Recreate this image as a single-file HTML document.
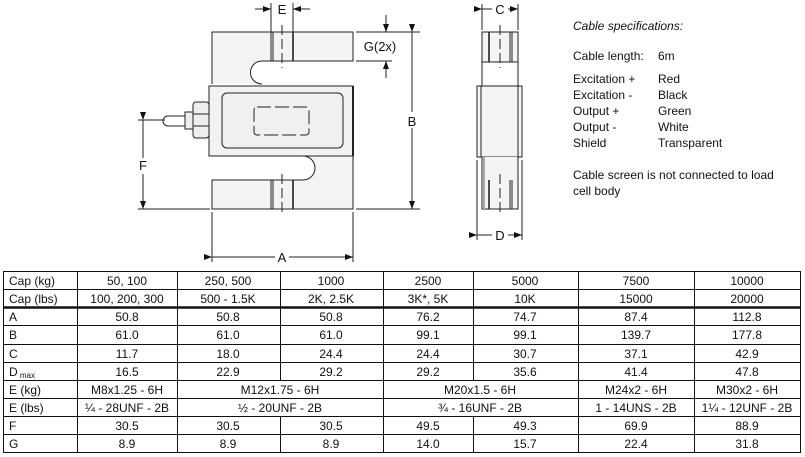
<!DOCTYPE html>
<html><head><meta charset="utf-8"><style>
html,body{margin:0;padding:0;background:#fff;width:805px;height:457px;overflow:hidden}
svg{display:block}
text{font-family:"Liberation Sans",sans-serif;fill:#111}
</style></head><body>
<svg width="805" height="457" viewBox="0 0 805 457" xmlns="http://www.w3.org/2000/svg">
<defs><marker id="ar" markerWidth="8" markerHeight="6" refX="8" refY="3" orient="auto"><path d="M0,0 L8,3 L0,6 z" fill="#111"/></marker></defs>
<g stroke="#222" stroke-width="1" fill="none">
<path d="M212,84 V32 H353 V61 H262 A11.5,11.5 0 0 0 262,84" fill="#f4f4f4"/>
<path d="M303,156 H353 V209 H212 V180 H303 A12,12 0 0 0 303,156 Z" fill="#f4f4f4"/>
<rect x="209" y="86" width="144" height="70" fill="#f2f2f2"/>
<line x1="353" y1="86" x2="353" y2="156" stroke-width="2"/>
<rect x="222" y="93" width="121" height="55" rx="5" fill="#f0f0f0"/>
<rect x="254" y="107" width="55" height="28" rx="3" stroke-dasharray="14,4"/>
<rect x="193" y="102" width="16" height="36" rx="3" fill="#eee"/>
<line x1="193" y1="114" x2="209" y2="114"/><line x1="193" y1="126" x2="209" y2="126"/>
<rect x="185" y="112" width="8" height="17" fill="#eee"/>
<path d="M185,116 H168 A5,5 0 0 0 168,126 H185"/>
<line x1="271" y1="32" x2="271" y2="61"/><line x1="273" y1="32" x2="273" y2="61"/><line x1="293" y1="32" x2="293" y2="61" stroke-width="1.6"/>
<line x1="271" y1="180" x2="271" y2="209"/><line x1="273" y1="180" x2="273" y2="209"/><line x1="293" y1="180" x2="293" y2="209" stroke-width="1.6"/>
<line x1="282" y1="25" x2="282" y2="68" stroke-dasharray="10,4"/>
<line x1="282" y1="174" x2="282" y2="215" stroke-dasharray="10,4"/>
<line x1="271" y1="3" x2="271" y2="32"/><line x1="293" y1="3" x2="293" y2="32"/>
<line x1="255" y1="9" x2="271" y2="9" marker-end="url(#ar)"/><line x1="310" y1="9" x2="293" y2="9" marker-end="url(#ar)"/>
<line x1="356" y1="32" x2="420" y2="32"/><line x1="356" y1="61" x2="392" y2="61"/>
<line x1="386" y1="15" x2="386" y2="32" marker-end="url(#ar)"/><line x1="386" y1="78" x2="386" y2="61" marker-end="url(#ar)"/>
<line x1="412" y1="32" x2="412" y2="209" marker-start="url(#ar)" marker-end="url(#ar)" />
<line x1="356" y1="209" x2="420" y2="209"/>
<line x1="138" y1="120" x2="165" y2="120"/><line x1="138" y1="209" x2="210" y2="209"/>
<line x1="143" y1="120" x2="143" y2="209" marker-start="url(#ar)" marker-end="url(#ar)"/>
<line x1="212" y1="212" x2="212" y2="262"/><line x1="353" y1="212" x2="353" y2="262"/>
<line x1="212" y1="257" x2="353" y2="257" marker-start="url(#ar)" marker-end="url(#ar)"/>
<rect x="482" y="32" width="36" height="30" fill="#f4f4f4"/>
<line x1="482" y1="62" x2="482" y2="86"/><line x1="518" y1="62" x2="518" y2="86"/>
<line x1="489" y1="32" x2="489" y2="62" stroke-width="1.6"/><line x1="510" y1="32" x2="510" y2="62"/><line x1="512" y1="32" x2="512" y2="62"/>
<rect x="477" y="86" width="45" height="71" fill="#f4f4f4"/>
<line x1="481" y1="86" x2="481" y2="157"/><line x1="518" y1="86" x2="518" y2="157"/>
<path d="M482,157 V209 H518 V157" fill="#f4f4f4"/>
<line x1="484" y1="157" x2="484" y2="209" stroke="#aaa" stroke-width="2"/>
<line x1="489" y1="180" x2="489" y2="209" stroke-width="1.6"/><line x1="510" y1="180" x2="510" y2="209"/><line x1="512" y1="180" x2="512" y2="209"/>
<line x1="500" y1="25" x2="500" y2="68" stroke-dasharray="10,4"/>
<line x1="500" y1="174" x2="500" y2="215" stroke-dasharray="10,4"/>
<line x1="482" y1="4" x2="482" y2="30"/><line x1="518" y1="4" x2="518" y2="30"/>
<line x1="482" y1="9" x2="518" y2="9" marker-start="url(#ar)" marker-end="url(#ar)"/>
<line x1="477" y1="160" x2="477" y2="240"/><line x1="522" y1="160" x2="522" y2="240"/>
<line x1="477" y1="235" x2="522" y2="235" marker-start="url(#ar)" marker-end="url(#ar)"/>
</g>
<g font-size="13" text-anchor="middle">
<rect x="274" y="2" width="16" height="14" fill="#fff"/><text x="282" y="14">E</text>
<text x="380" y="51">G(2x)</text>
<rect x="405" y="112" width="14" height="16" fill="#fff"/><text x="412" y="126">B</text>
<rect x="136" y="158" width="14" height="16" fill="#fff"/><text x="143" y="170">F</text>
<rect x="275" y="250" width="14" height="14" fill="#fff"/><text x="282" y="262">A</text>
<rect x="492" y="2" width="16" height="14" fill="#fff"/><text x="500" y="14">C</text>
<rect x="492" y="228" width="16" height="14" fill="#fff"/><text x="500" y="240">D</text>
</g>
<g font-size="12">
<text x="573" y="30" font-style="italic">Cable specifications:</text>
<text x="573" y="60">Cable length:</text><text x="658" y="60">6m</text>
<text x="573" y="83">Excitation +</text><text x="658" y="83">Red</text>
<text x="573" y="99">Excitation -</text><text x="658" y="99">Black</text>
<text x="573" y="115">Output +</text><text x="658" y="115">Green</text>
<text x="573" y="131">Output -</text><text x="658" y="131">White</text>
<text x="573" y="147">Shield</text><text x="658" y="147">Transparent</text>
<text x="573" y="179">Cable screen is not connected to load</text>
<text x="573" y="195">cell body</text>
</g>
<g stroke="#111" stroke-width="1" fill="none">
<rect x="3.5" y="271.5" width="797" height="181"/>
<line x1="3" y1="289.5" x2="801" y2="289.5"/>
<line x1="3" y1="307.5" x2="801" y2="307.5" stroke-width="2.5"/>
<line x1="3" y1="325.5" x2="801" y2="325.5"/>
<line x1="3" y1="344.5" x2="801" y2="344.5"/>
<line x1="3" y1="362.5" x2="801" y2="362.5"/>
<line x1="3" y1="380.5" x2="801" y2="380.5"/>
<line x1="3" y1="398.5" x2="801" y2="398.5"/>
<line x1="3" y1="416.5" x2="801" y2="416.5"/>
<line x1="3" y1="434.5" x2="801" y2="434.5"/>
<line x1="77.5" y1="271" x2="77.5" y2="453"/>
<line x1="177.5" y1="271" x2="177.5" y2="453"/>
<line x1="280.5" y1="271" x2="280.5" y2="381"/><line x1="280.5" y1="416" x2="280.5" y2="453"/>
<line x1="383.5" y1="271" x2="383.5" y2="453"/>
<line x1="473.5" y1="271" x2="473.5" y2="381"/><line x1="473.5" y1="416" x2="473.5" y2="453"/>
<line x1="578.5" y1="271" x2="578.5" y2="453"/>
<line x1="694.5" y1="271" x2="694.5" y2="453"/>
</g>
<g font-size="12" text-anchor="middle">
<g text-anchor="start">
<text x="9" y="285">Cap (kg)</text><text x="9" y="303">Cap (lbs)</text><text x="9" y="321">A</text><text x="9" y="339">B</text><text x="9" y="358">C</text><text x="9" y="376">D<tspan font-size="8" dy="2"> max</tspan></text><text x="9" y="394">E (kg)</text><text x="9" y="412">E (lbs)</text><text x="9" y="430">F</text><text x="9" y="448">G</text>
</g>
<text x="127" y="285">50, 100</text><text x="228" y="285">250, 500</text><text x="331" y="285">1000</text><text x="428" y="285">2500</text><text x="525" y="285">5000</text><text x="636" y="285">7500</text><text x="747" y="285">10000</text>
<text x="127" y="303">100, 200, 300</text><text x="228" y="303">500 - 1.5K</text><text x="331" y="303">2K, 2.5K</text><text x="428" y="303">3K*, 5K</text><text x="525" y="303">10K</text><text x="636" y="303">15000</text><text x="747" y="303">20000</text>
<text x="127" y="321">50.8</text><text x="228" y="321">50.8</text><text x="331" y="321">50.8</text><text x="428" y="321">76.2</text><text x="525" y="321">74.7</text><text x="636" y="321">87.4</text><text x="747" y="321">112.8</text>
<text x="127" y="339">61.0</text><text x="228" y="339">61.0</text><text x="331" y="339">61.0</text><text x="428" y="339">99.1</text><text x="525" y="339">99.1</text><text x="636" y="339">139.7</text><text x="747" y="339">177.8</text>
<text x="127" y="358">11.7</text><text x="228" y="358">18.0</text><text x="331" y="358">24.4</text><text x="428" y="358">24.4</text><text x="525" y="358">30.7</text><text x="636" y="358">37.1</text><text x="747" y="358">42.9</text>
<text x="127" y="376">16.5</text><text x="228" y="376">22.9</text><text x="331" y="376">29.2</text><text x="428" y="376">29.2</text><text x="525" y="376">35.6</text><text x="636" y="376">41.4</text><text x="747" y="376">47.8</text>
<text x="127" y="394">M8x1.25 - 6H</text><text x="280" y="394">M12x1.75 - 6H</text><text x="480" y="394">M20x1.5 - 6H</text><text x="636" y="394">M24x2 - 6H</text><text x="747" y="394">M30x2 - 6H</text>
<text x="127" y="412">¼ - 28UNF - 2B</text><text x="280" y="412">½ - 20UNF - 2B</text><text x="480" y="412">¾ - 16UNF - 2B</text><text x="636" y="412">1 - 14UNS - 2B</text><text x="747" y="412">1¼ - 12UNF - 2B</text>
<text x="127" y="430">30.5</text><text x="228" y="430">30.5</text><text x="331" y="430">30.5</text><text x="428" y="430">49.5</text><text x="525" y="430">49.3</text><text x="636" y="430">69.9</text><text x="747" y="430">88.9</text>
<text x="127" y="448">8.9</text><text x="228" y="448">8.9</text><text x="331" y="448">8.9</text><text x="428" y="448">14.0</text><text x="525" y="448">15.7</text><text x="636" y="448">22.4</text><text x="747" y="448">31.8</text>
</g>
</svg>
</body></html>
